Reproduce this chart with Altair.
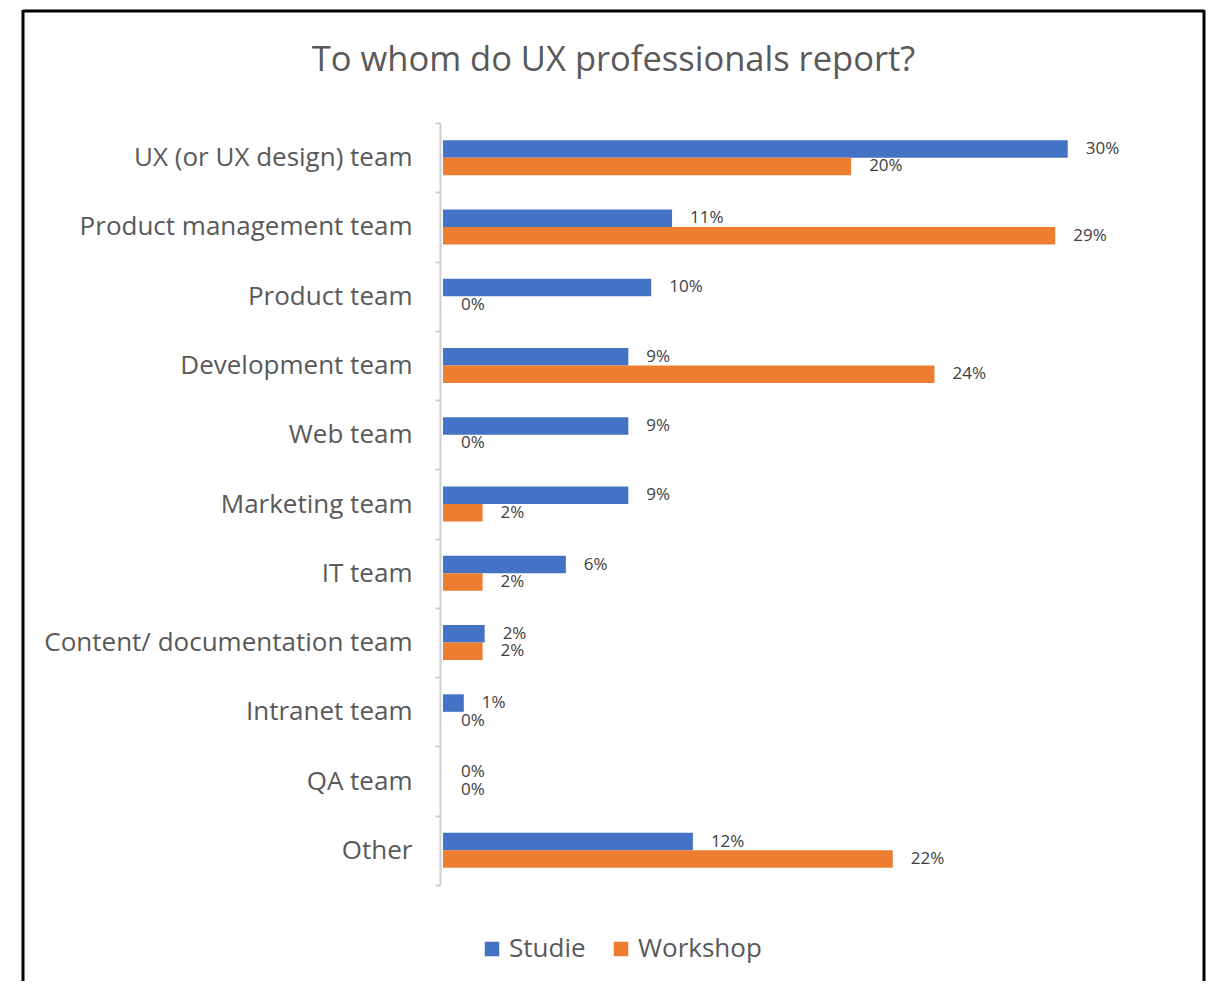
import altair as alt
import pandas as pd

categories = [
    "UX (or UX design) team",
    "Product management team",
    "Product team",
    "Development team",
    "Web team",
    "Marketing team",
    "IT team",
    "Content/ documentation team",
    "Intranet team",
    "QA team",
    "Other",
]
# percentages (labels show rounded values)
studie = [30.0, 11.0, 10.0, 8.9, 8.9, 8.9, 5.9, 2.0, 1.0, 0.0, 12.0]
workshop = [19.6, 29.4, 0.0, 23.6, 0.0, 1.9, 1.9, 1.9, 0.0, 0.0, 21.6]
series = ["Studie", "Workshop"]
colors = ["#4472C4", "#ED7D31"]

rows = []
for c, s, w in zip(categories, studie, workshop):
    rows.append({"category": c, "series": "Studie", "value": s / 100})
    rows.append({"category": c, "series": "Workshop", "value": w / 100})
df = pd.DataFrame(rows)

FONT = "Open Sans"
GREY = "#595959"

base = alt.Chart(df).encode(
    y=alt.Y(
        "category:N",
        sort=categories,
        scale=alt.Scale(paddingInner=0, paddingOuter=0),
        axis=alt.Axis(
            title=None,
            tickBand="extent",
            domainColor="#D0D0D0",
            domainWidth=2,
            tickColor="#D0D0D0",
            tickWidth=2,
            tickSize=5,
            offset=3,
            labelPadding=23,
            labelFontSize=26,
            labelFont=FONT,
            labelColor=GREY,
            labelLimit=600,
        ),
    ),
    yOffset=alt.YOffset("series:N", sort=series, scale=alt.Scale(paddingOuter=0.98, paddingInner=0)),
    x=alt.X("value:Q", scale=alt.Scale(domain=[0, 0.34]), axis=None),
)

bars = base.mark_bar().encode(
    color=alt.Color(
        "series:N",
        sort=series,
        scale=alt.Scale(domain=series, range=colors),
        legend=alt.Legend(
            title=None,
            orient="none",
            legendX=36,
            legendY=813,
            direction="horizontal",
            symbolType="square",
            symbolSize=210,
            symbolStrokeWidth=0,
            labelFontSize=26,
            labelFont=FONT,
            labelColor=GREY,
            columnPadding=22,
            labelOffset=4,
        ),
    )
)

labels = base.mark_text(align="left", baseline="middle", dx=18, fontSize=17, font=FONT, color="#404040").encode(
    text=alt.Text("value:Q", format=".0%")
)

frame_src = alt.Chart(pd.DataFrame({"a": [0]}))
frame_top = frame_src.mark_rule(stroke="black", strokeWidth=3).encode(
    x=alt.value(-420), x2=alt.value(761), y=alt.value(-112)
)
frame_left = frame_src.mark_rule(stroke="black", strokeWidth=3).encode(
    x=alt.value(-420), y=alt.value(-113), y2=alt.value(858)
)
frame_right = frame_src.mark_rule(stroke="black", strokeWidth=3).encode(
    x=alt.value(761), y=alt.value(-113), y2=alt.value(858)
)

chart = (
    alt.layer(frame_top, frame_left, frame_right, bars, labels)
    .properties(
        width=708,
        height=762,
        padding={"left": 13, "top": 0, "right": 0, "bottom": 0},
        title=alt.TitleParams(
            "To whom do UX professionals report?",
            fontSize=34.5,
            font=FONT,
            color=GREY,
            fontWeight="normal",
            anchor="middle",
            frame="bounds",
            offset=-70,
        ),
    )
    .configure_view(stroke=None)
)

chart.save("out.html", embed_options={"renderer": "svg", "actions": False})
